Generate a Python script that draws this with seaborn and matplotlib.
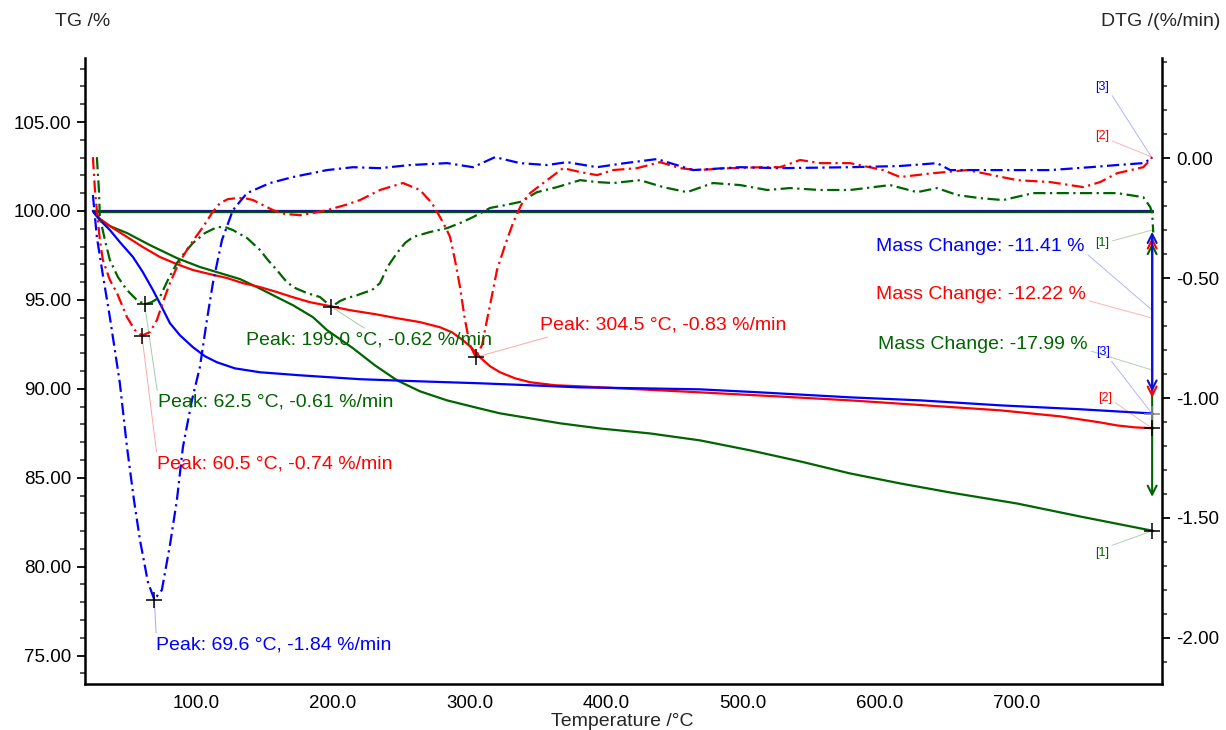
import matplotlib
matplotlib.use("Agg")
import matplotlib.pyplot as plt
import numpy as np
import pandas as pd
import seaborn as sns
from matplotlib.ticker import FixedLocator, FormatStrFormatter

# ---- TG curves (left axis, %) ----
t_tg_blue = [24.7, 26.2, 29.8, 37.1, 44.4, 54.0, 61.2, 68.6, 75.1, 81.0, 88.3, 97.8, 106.6,
             115.4, 128.5, 146.8, 176.0, 219.9, 263.7, 307.6, 344.2, 380.7, 424.6, 468.4,
             512.3, 578.1, 629.2, 687.7, 746.2, 797.4, 799.6]
tg_blue = [100.0, 99.83, 99.49, 98.93, 98.25, 97.41, 96.56, 95.55, 94.59, 93.69, 93.01, 92.34,
           91.83, 91.49, 91.15, 90.93, 90.76, 90.54, 90.42, 90.31, 90.20, 90.08, 90.03, 89.97,
           89.80, 89.52, 89.35, 89.07, 88.85, 88.62, 88.59]

t_tg_red = [24.7, 26.2, 29.8, 37.1, 49.6, 61.2, 73.7, 86.1, 97.8, 110.2, 122.7, 134.4, 146.8,
            159.2, 170.9, 183.3, 198.0, 212.6, 230.8, 246.9, 263.7, 278.4, 287.1, 295.2, 301.8,
            307.6, 314.9, 322.2, 333.2, 344.2, 362.4, 380.7, 424.6, 468.4, 523.2, 578.1, 632.9,
            687.7, 731.6, 760.8, 773.2, 786.4, 799.6]
tg_red = [100.0, 99.83, 99.55, 99.15, 98.54, 97.97, 97.41, 97.01, 96.68, 96.45, 96.23, 95.94,
          95.72, 95.44, 95.15, 94.87, 94.65, 94.42, 94.20, 93.97, 93.75, 93.46, 93.18, 92.73,
          92.28, 91.77, 91.27, 90.93, 90.59, 90.37, 90.20, 90.14, 89.97, 89.80, 89.58, 89.35,
          89.07, 88.79, 88.45, 88.11, 87.94, 87.83, 87.78]

t_tg_green = [26.2, 29.8, 37.1, 49.6, 66.4, 86.1, 102.9, 117.5, 132.2, 144.6, 157.7, 170.9,
              185.5, 195.8, 214.8, 230.8, 246.9, 263.7, 283.5, 303.9, 322.2, 344.2, 366.1,
              395.3, 431.9, 468.4, 505.0, 541.5, 578.1, 614.6, 651.2, 700.1, 746.2, 799.6]
tg_green = [100.0, 99.55, 99.15, 98.76, 98.08, 97.35, 96.85, 96.51, 96.17, 95.72, 95.21, 94.70,
            94.03, 93.30, 92.28, 91.32, 90.48, 89.86, 89.35, 88.96, 88.62, 88.34, 88.06, 87.77,
            87.49, 87.10, 86.54, 85.92, 85.24, 84.68, 84.17, 83.55, 82.82, 82.01]

# ---- DTG curves (right axis, %/min) ----
t_dtg_blue = [24.7, 27.6, 32.0, 37.1, 44.4, 49.6, 54.7, 59.1, 64.9, 69.6, 75.1, 81.0, 86.1,
              90.5, 97.1, 102.9, 108.0, 112.4, 119.0, 127.0, 137.3, 154.1, 170.9, 195.8, 214.8,
              234.5, 256.4, 283.5, 302.5, 318.6, 336.8, 356.6, 371.2, 393.1, 413.6, 437.0,
              463.3, 497.7, 526.9, 578.1, 614.6, 641.7, 651.2, 687.7, 724.3, 753.5, 773.2,
              792.3, 798.8]
dtg_blue = [-0.154, -0.329, -0.488, -0.663, -0.938, -1.204, -1.425, -1.592, -1.767, -1.84,
            -1.80, -1.613, -1.425, -1.204, -1.008, -0.871, -0.675, -0.521, -0.342, -0.217,
            -0.146, -0.104, -0.079, -0.05, -0.038, -0.042, -0.029, -0.021, -0.038, 0.004,
            -0.021, -0.029, -0.017, -0.038, -0.021, -0.004, -0.05, -0.038, -0.042, -0.038,
            -0.033, -0.021, -0.05, -0.05, -0.05, -0.038, -0.029, -0.021, 0.0]

t_dtg_red = [24.7, 26.2, 27.6, 29.8, 32.0, 37.1, 42.3, 49.6, 55.4, 60.5, 66.4, 71.5, 75.9,
             81.0, 86.8, 93.4, 99.3, 105.1, 111.7, 117.5, 123.4, 130.0, 135.8, 141.7, 149.0,
             156.3, 165.1, 176.0, 185.5, 195.8, 208.9, 219.9, 234.5, 251.3, 263.7, 272.5,
             278.4, 282.7, 285.7, 289.3, 293.0, 296.6, 300.3, 304.5, 309.1, 312.7, 316.4,
             320.0, 325.9, 331.7, 337.6, 344.2, 356.6, 368.3, 380.7, 393.1, 404.8, 422.4,
             439.2, 453.8, 466.2, 490.4, 514.5, 526.9, 541.5, 556.1, 578.1, 602.2, 614.6,
             638.7, 663.6, 675.3, 700.1, 724.3, 748.4, 760.8, 773.2, 792.3, 797.4, 798.8]
dtg_red = [0.004, -0.133, -0.217, -0.342, -0.425, -0.508, -0.5625, -0.663, -0.717, -0.74,
           -0.725, -0.675, -0.6, -0.521, -0.446, -0.383, -0.333, -0.288, -0.229, -0.188,
           -0.171, -0.167, -0.167, -0.175, -0.196, -0.217, -0.233, -0.238, -0.229, -0.217,
           -0.196, -0.175, -0.133, -0.104, -0.133, -0.188, -0.246, -0.292, -0.329, -0.425,
           -0.538, -0.675, -0.779, -0.83, -0.779, -0.675, -0.571, -0.467, -0.363, -0.271,
           -0.196, -0.146, -0.092, -0.042, -0.058, -0.071, -0.05, -0.042, -0.017, -0.042,
           -0.05, -0.042, -0.038, -0.038, -0.008, -0.021, -0.021, -0.05, -0.079, -0.063,
           -0.05, -0.063, -0.092, -0.1, -0.121, -0.1, -0.063, -0.038, -0.008, 0.004]

t_dtg_green = [27.6, 29.1, 29.8, 33.5, 37.1, 43.0, 49.6, 56.1, 62.5, 67.8, 73.7, 79.5, 86.1,
               92.0, 97.8, 106.6, 115.4, 121.2, 127.0, 137.3, 146.8, 152.6, 159.2, 165.1,
               170.9, 181.1, 190.6, 199.0, 205.3, 210.4, 216.2, 222.1, 228.7, 234.5, 240.4,
               246.9, 252.8, 258.6, 271.1, 283.5, 293.0, 302.5, 314.9, 325.9, 336.8, 349.3,
               363.9, 380.7, 393.1, 404.8, 424.6, 441.4, 458.9, 477.9, 497.7, 517.4, 534.2,
               556.1, 578.1, 607.3, 627.0, 641.7, 656.3, 673.1, 689.9, 711.8, 748.4, 773.2,
               792.3, 797.4, 798.8, 799.6]
dtg_green = [0.004, -0.133, -0.246, -0.342, -0.425, -0.496, -0.55, -0.5875, -0.61, -0.6,
             -0.579, -0.508, -0.4375, -0.392, -0.354, -0.3125, -0.2875, -0.2875, -0.3, -0.333,
             -0.383, -0.425, -0.467, -0.508, -0.5375, -0.5625, -0.579, -0.62, -0.596, -0.583,
             -0.575, -0.5625, -0.55, -0.521, -0.45, -0.396, -0.354, -0.329, -0.308, -0.292,
             -0.271, -0.246, -0.208, -0.196, -0.183, -0.142, -0.121, -0.092, -0.1, -0.104,
             -0.092, -0.121, -0.142, -0.104, -0.1125, -0.133, -0.125, -0.133, -0.133, -0.1125,
             -0.142, -0.125, -0.154, -0.167, -0.175, -0.146, -0.146, -0.146, -0.163, -0.204,
             -0.229, -0.31]

# baseline (start mass) line
baseline_t = [24.7, 799.6]
baseline_tg = [100.0, 100.0]

# peaks
peak_t = [69.6, 60.5, 62.5, 199.0, 304.5]
peak_dtg = [-1.84, -0.74, -0.61, -0.62, -0.83]
peak_key = ["blue", "red", "green", "green", "red"]

# mass changes
mass_change = [-11.41, -12.22, -17.99]
mass_key = ["blue", "red", "green"]

col = {"blue": "#0000ff", "red": "#ff0000", "green": "#006400"}
navy = "#1a1a8a"

sns.set_style("white")
plt.rcParams["font.family"] = ["Liberation Sans", "DejaVu Sans"]
plt.rcParams["axes.unicode_minus"] = False
plt.rcParams["font.size"] = 14

fig = plt.figure(figsize=(12.26, 7.30), dpi=100)
ax = fig.add_subplot(111)
fig.subplots_adjust(left=0.0693, right=0.9478, top=0.9205, bottom=0.063)
ax2 = ax.twinx()

dashdot = (0, (5.5, 2.0, 1.0, 2.0))

tg_sets = {"blue": (t_tg_blue, tg_blue), "red": (t_tg_red, tg_red), "green": (t_tg_green, tg_green)}
dtg_sets = {"blue": (t_dtg_blue, dtg_blue), "red": (t_dtg_red, dtg_red), "green": (t_dtg_green, dtg_green)}

# baseline lines
sns.lineplot(x=baseline_t, y=[v - 0.07 for v in baseline_tg], ax=ax, color=col["green"], lw=1.0)
sns.lineplot(x=baseline_t, y=baseline_tg, ax=ax, color=navy, lw=1.6)

for k in ["green", "red", "blue"]:
    t, v = tg_sets[k]
    df = pd.DataFrame({"T": t, "TG": v})
    sns.lineplot(data=df, x="T", y="TG", ax=ax, color=col[k], lw=1.6, sort=False, estimator=None)

for k in ["green", "red", "blue"]:
    t, v = dtg_sets[k]
    df = pd.DataFrame({"T": t, "DTG": v})
    sns.lineplot(data=df, x="T", y="DTG", ax=ax2, color=col[k], lw=1.6, sort=False,
                 estimator=None, linestyle=dashdot)

# axes ranges & ticks
ax.set_xlim(18.9, 806)
ax.set_ylim(73.4, 108.6)
ax2.set_ylim(-2.192, 0.417)
ax.xaxis.set_major_locator(FixedLocator(np.arange(100, 701, 100)))
ax.xaxis.set_minor_locator(FixedLocator([v for v in np.arange(40, 781, 20) if v % 100]))
ax.yaxis.set_major_locator(FixedLocator(np.arange(75, 106, 5)))
ax.yaxis.set_minor_locator(FixedLocator([v for v in np.arange(74, 109, 1) if v % 5]))
ax2.yaxis.set_major_locator(FixedLocator([0.0, -0.5, -1.0, -1.5, -2.0]))
ax2.yaxis.set_minor_locator(FixedLocator([round(v, 1) for v in np.arange(-2.1, 0.41, 0.1)
                                          if abs(round(v * 10) % 5) != 0]))
ax.xaxis.set_major_formatter(FormatStrFormatter("%.1f"))
ax.yaxis.set_major_formatter(FormatStrFormatter("%.2f"))
ax2.yaxis.set_major_formatter(FormatStrFormatter("%.2f"))

for a in (ax, ax2):
    a.tick_params(which="major", direction="out", length=6, width=1.3, labelsize=13.5, colors="black")
    a.tick_params(which="minor", direction="out", length=3.5, width=1.1)
    a.set_xlabel("")
    a.set_ylabel("")
    for s in a.spines.values():
        s.set_linewidth(1.8)
        s.set_color("black")
    a.spines["top"].set_visible(False)
ax.tick_params(axis="x", pad=2)
ax.tick_params(axis="y", pad=4)
ax2.tick_params(axis="y", pad=4)
ax.spines["right"].set_visible(False)
ax2.spines["left"].set_visible(False)
ax2.spines["bottom"].set_visible(False)

# peak markers & labels
label_fmt = "Peak: {:.1f} °C, {:.2f} %/min"
offsets = [(1.4, -32.4), (10.8, -92.2), (9.4, -70.6), (-61.2, -23.8), (46.0, 23.0)]
relposs = [(0.0, 1.0), (0.0, 1.0), (0.0, 1.0), (0.5, 1.0), (0.08, 0.0)]
for t, d, k, off, rp in zip(peak_t, peak_dtg, peak_key, offsets, relposs):
    ax2.annotate(label_fmt.format(t, d), xy=(t, d), xytext=off, textcoords="offset points",
                 ha="left", va="center", color=col[k], fontsize=14,
                 arrowprops=dict(arrowstyle="-", color=col[k], alpha=0.35, lw=0.7,
                                 shrinkA=0, shrinkB=0, relpos=rp))
    ax2.plot(t, d, marker="+", ms=12, mew=1.1, color="black", zorder=5)

# mass change arrows and labels
shrinks = {"blue": (15, 16), "red": (19, 22), "green": (23, 24.5)}
text_pos = {"blue": (0.7345, 0.6997), "red": (0.7345, 0.623), "green": (0.7363, 0.543)}
lead_pos = {"blue": 0.5974, "red": 0.5847, "green": 0.5016}
for k, mc in zip(["green", "red", "blue"], [mass_change[2], mass_change[1], mass_change[0]]):
    t, v = tg_sets[k]
    t_end = t[-1] - 0.8
    sa, sb = shrinks[k]
    ax.annotate("", xy=(t_end, 100 + mc), xytext=(t_end, 100),
                arrowprops=dict(arrowstyle="<->", color=col[k] if k != "blue" else "#1010d0",
                                lw=1.5, shrinkA=sa, shrinkB=sb, mutation_scale=16))
for k, mc in zip(mass_key, mass_change):
    tx, ty = text_pos[k]
    ax.annotate(f"Mass Change: {mc:.2f} %", xy=(0.9907, lead_pos[k]), xycoords="axes fraction",
                xytext=(tx, ty), textcoords="axes fraction", ha="left", va="center",
                color=col[k], fontsize=14,
                arrowprops=dict(arrowstyle="-", color=col[k], alpha=0.3, lw=0.7,
                                shrinkA=0, shrinkB=0, relpos=(1.0, 0.15)))

# TG end markers
for k in ["blue", "red", "green"]:
    t, v = tg_sets[k]
    ax.plot(t[-1] - 0.8, v[-1], marker="+", ms=12, mew=1.1,
            color="#888888" if k == "blue" else "black", zorder=5)

# small [n] labels
num = {"blue": "[3]", "red": "[2]", "green": "[1]"}
top_lbl = {"blue": (0.9443, 0.9537), "red": (0.9443, 0.8754)}
for k, (lx, ly) in top_lbl.items():
    t, v = dtg_sets[k]
    ax2.annotate(num[k], xy=(t[-1], v[-1]), xytext=(lx, ly), textcoords="axes fraction",
                 ha="center", va="center", color=col[k], fontsize=9,
                 arrowprops=dict(arrowstyle="-", color=col[k], alpha=0.3, lw=0.7,
                                 shrinkA=0, shrinkB=0, relpos=(1.0, 0.2)))
ax.annotate(num["green"], xy=(0.9907, 0.7252), xycoords="axes fraction",
            xytext=(0.9443, 0.7045), textcoords="axes fraction", ha="center", va="center",
            color=col["green"], fontsize=9,
            arrowprops=dict(arrowstyle="-", color=col["green"], alpha=0.3, lw=0.7,
                            shrinkA=0, shrinkB=0, relpos=(1.0, 0.6)))
bot_lbl = {"blue": ((0.9452, 0.5304), (0.8, 0.2)), "red": ((0.9471, 0.4569), (1.0, 0.3)),
           "green": ((0.9443, 0.2093), (0.9, 1.0))}
for k, ((lx, ly), rp) in bot_lbl.items():
    t, v = tg_sets[k]
    ax.annotate(num[k], xy=(t[-1] - 0.8, v[-1]), xytext=(lx, ly), textcoords="axes fraction",
                ha="center", va="center", color=col[k], fontsize=9,
                arrowprops=dict(arrowstyle="-", color=col[k], alpha=0.3, lw=0.7,
                                shrinkA=0, shrinkB=0, relpos=rp))

# axis titles
fig.text(55 / 1226, 1 - 22 / 730, "TG /%", ha="left", va="center", fontsize=14)
fig.text(1220 / 1226, 1 - 22 / 730, "DTG /(%/min)", ha="right", va="center", fontsize=14)
fig.text(622 / 1226, 1 - 722 / 730, "Temperature /°C", ha="center", va="center", fontsize=14)

fig.savefig("out.png", dpi=100)
